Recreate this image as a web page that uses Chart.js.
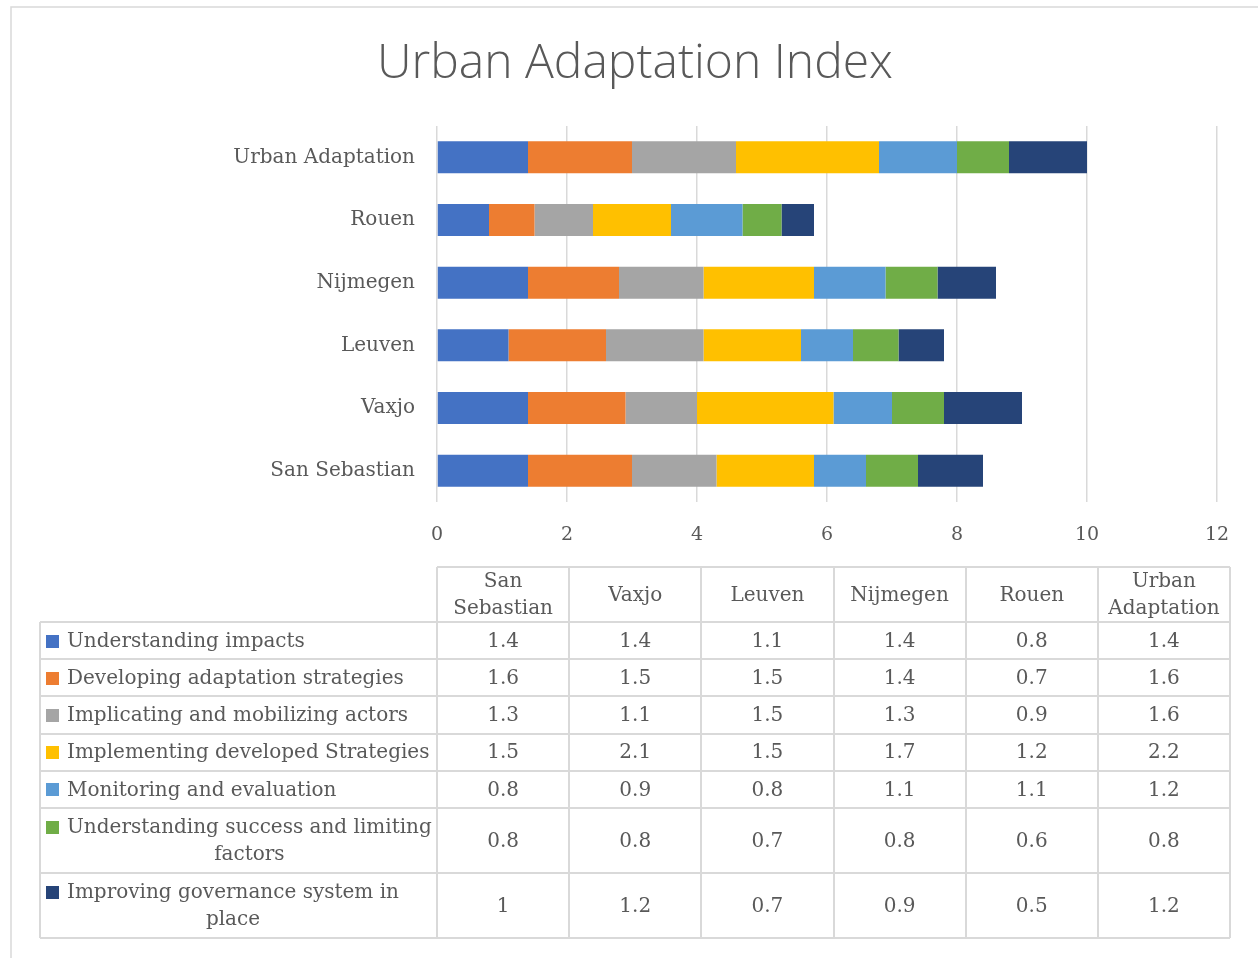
<!DOCTYPE html>
<html>
<head>
<meta charset="utf-8">
<title>Urban Adaptation Index</title>
<script src="https://cdn.jsdelivr.net/npm/chart.js@4"></script>
<style>
  html, body { margin: 0; padding: 0; background: #ffffff; }
  #wrap { width: 1258px; height: 958px; }
</style>
</head>
<body>
<div id="wrap"><canvas id="chart" width="1258" height="958"></canvas></div>
<script>
// Cities (table column order; the bar axis is drawn reversed so the first city sits at the bottom)
const cities = ['San Sebastian', 'Vaxjo', 'Leuven', 'Nijmegen', 'Rouen', 'Urban Adaptation'];

// Index components, one value per city
const understandingImpacts   = [1.4, 1.4, 1.1, 1.4, 0.8, 1.4];
const developingStrategies   = [1.6, 1.5, 1.5, 1.4, 0.7, 1.6];
const mobilizingActors       = [1.3, 1.1, 1.5, 1.3, 0.9, 1.6];
const implementingStrategies = [1.5, 2.1, 1.5, 1.7, 1.2, 2.2];
const monitoringEvaluation   = [0.8, 0.9, 0.8, 1.1, 1.1, 1.2];
const successFactors         = [0.8, 0.8, 0.7, 0.8, 0.6, 0.8];
const governanceSystem       = [1, 1.2, 0.7, 0.9, 0.5, 1.2];

const componentNames = [
  'Understanding impacts',
  'Developing adaptation strategies',
  'Implicating and mobilizing actors',
  'Implementing developed Strategies',
  'Monitoring and evaluation',
  'Understanding success and limiting factors',
  'Improving governance system in place'
];
const componentValues = [
  understandingImpacts, developingStrategies, mobilizingActors,
  implementingStrategies, monitoringEvaluation, successFactors, governanceSystem
];
const componentColors = ['#4472C4', '#ED7D31', '#A5A5A5', '#FFC000', '#5B9BD5', '#70AD47', '#264478'];

const xTickValues = [0, 2, 4, 6, 8, 10, 12];

const TEXT = '#595959';
const GRID = '#d9d9d9';
const SERIF = '"DejaVu Serif", "Liberation Serif", serif';
const TABLE_FONT = '20px ' + SERIF;

function wrapText(ctx, text, maxW) {
  const words = text.split(' ');
  const lines = [];
  let cur = '';
  for (const w of words) {
    const test = cur ? cur + ' ' + w : w;
    if (cur && ctx.measureText(test).width > maxW) {
      lines.push(cur);
      cur = w;
    } else {
      cur = test;
    }
  }
  if (cur) lines.push(cur);
  return lines;
}

// White background and the thin outer frame
const framePlugin = {
  id: 'frame',
  beforeDraw(chart) {
    const { ctx, width, height } = chart;
    ctx.save();
    ctx.fillStyle = '#ffffff';
    ctx.fillRect(0, 0, width, height);
    ctx.strokeStyle = GRID;
    ctx.lineWidth = 1.5;
    ctx.strokeRect(11, 7, width + 10, height + 10);
    ctx.restore();
  }
};

// Data table with legend keys underneath the plot
const tablePlugin = {
  id: 'dataTable',
  afterDraw(chart) {
    const { ctx } = chart;
    const xs = chart.scales.x;
    const left = 40;
    const colLeft = xs.left;
    const right = 1230;
    const colW = (right - colLeft) / cities.length;
    const top = 567;
    const headH = 55;
    const lineH = 27;

    ctx.save();
    ctx.font = TABLE_FONT;
    ctx.fillStyle = TEXT;
    ctx.textBaseline = 'middle';

    const textLeft = 67;
    const rows = chart.data.datasets.map(ds => {
      const lines = wrapText(ctx, ds.label, colLeft - textLeft - 4);
      return { ds, lines, h: lines.length > 1 ? 65 : 37.2 };
    });

    // grid lines
    ctx.strokeStyle = GRID;
    ctx.lineWidth = 2;
    ctx.beginPath();
    ctx.moveTo(colLeft, top); ctx.lineTo(right, top);
    const y = top + headH;
    const bottom = y + rows.reduce((a, r) => a + r.h, 0);
    for (let i = 0; i <= cities.length; i++) {
      const cx = Math.round(colLeft + i * colW);
      ctx.moveTo(cx, top); ctx.lineTo(cx, bottom);
    }
    ctx.moveTo(left, y); ctx.lineTo(left, bottom);
    let yy = y;
    ctx.moveTo(left, yy); ctx.lineTo(right, yy);
    rows.forEach(r => {
      yy += r.h;
      ctx.moveTo(left, Math.round(yy)); ctx.lineTo(right, Math.round(yy));
    });
    ctx.stroke();

    // header labels
    ctx.textAlign = 'center';
    cities.forEach((c, i) => {
      const lines = wrapText(ctx, c, colW - 12);
      const cx = colLeft + (i + 0.5) * colW;
      const cy = top + headH / 2 + 1;
      lines.forEach((ln, k) => {
        ctx.fillText(ln, cx, cy + (k - (lines.length - 1) / 2) * lineH);
      });
    });

    // body rows
    yy = y;
    rows.forEach(r => {
      const cy = yy + r.h / 2 + 1;
      const firstY = cy - (r.lines.length - 1) / 2 * lineH;
      // legend key
      ctx.fillStyle = r.ds.backgroundColor;
      ctx.fillRect(46, Math.round(firstY - 7), 13, 13);
      ctx.fillStyle = TEXT;
      ctx.textAlign = 'left';
      ctx.fillText(r.lines[0], textLeft, firstY);
      const firstW = ctx.measureText(r.lines[0]).width;
      ctx.textAlign = 'center';
      for (let k = 1; k < r.lines.length; k++) {
        ctx.fillText(r.lines[k], textLeft + firstW / 2, firstY + k * lineH);
      }
      // values
      r.ds.data.forEach((v, i) => {
        ctx.fillText(String(v), colLeft + (i + 0.5) * colW, cy);
      });
      yy += r.h;
    });
    ctx.restore();
  }
};

const datasets = componentNames.map((name, i) => ({
  label: name,
  data: componentValues[i],
  backgroundColor: componentColors[i],
  borderWidth: 0,
  barPercentage: 0.51,
  categoryPercentage: 1.0
}));

new Chart(document.getElementById('chart'), {
  type: 'bar',
  data: { labels: cities, datasets },
  plugins: [framePlugin, tablePlugin],
  options: {
    indexAxis: 'y',
    responsive: false,
    animation: false,
    layout: { padding: { left: 12, right: 0, top: 0, bottom: 413 } },
    plugins: {
      legend: { display: false },
      tooltip: { enabled: false },
      title: {
        display: true,
        text: 'Urban Adaptation Index',
        color: TEXT,
        font: { family: '"Open Sans", "Noto Sans", sans-serif', size: 48, weight: '300', lineHeight: 1.2 },
        padding: { top: 36, bottom: 32.4 }
      }
    },
    scales: {
      x: {
        stacked: true,
        min: 0,
        max: 12,
        afterBuildTicks(scale) { scale.ticks = xTickValues.map(v => ({ value: v })); },
        afterFit(scale) { scale.height = 43; },
        grid: { color: GRID, lineWidth: 1.5, drawTicks: false },
        border: { display: false },
        ticks: { color: TEXT, padding: 22, font: { family: SERIF, size: 19 } }
      },
      y: {
        stacked: true,
        reverse: true,
        afterFit(scale) { scale.width = 425; },
        grid: { display: false, drawTicks: false },
        border: { display: false },
        ticks: { color: TEXT, padding: 22, font: { family: SERIF, size: 20 } }
      },
      yRight: {
        type: 'category',
        position: 'right',
        labels: cities,
        afterFit(scale) { scale.width = 41; },
        grid: { display: false, drawTicks: false },
        border: { display: false },
        ticks: { display: false }
      }
    }
  }
});
</script>
</body>
</html>
